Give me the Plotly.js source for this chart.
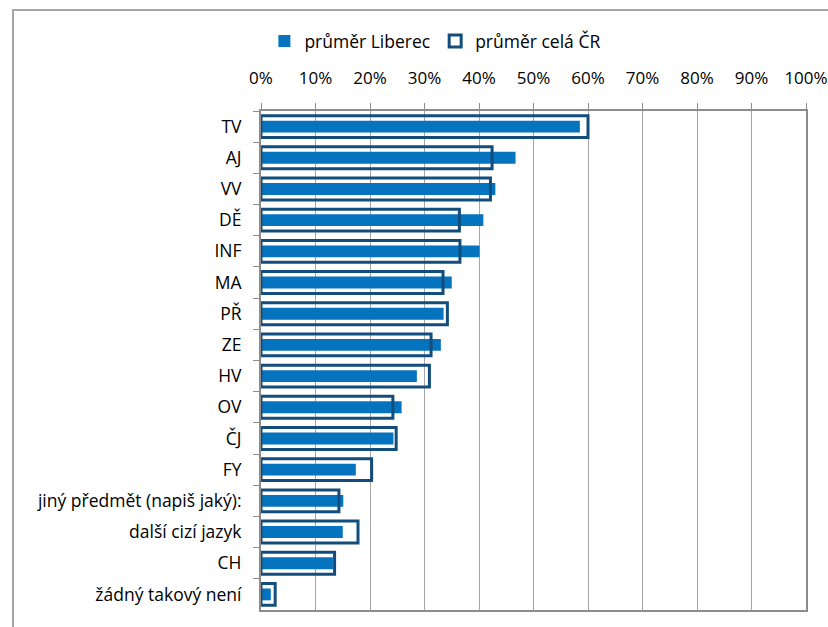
<!DOCTYPE html>
<html>
<head>
<meta charset="utf-8">
<script src="https://cdn.plot.ly/plotly-3.0.1.min.js"></script>
<style>
  html, body { margin: 0; padding: 0; background: #fff; }
  #frame { position: absolute; left: 12px; top: 9px; width: 840px; height: 640px;
           border-left: 2px solid #A6A6A6; border-top: 2px solid #A6A6A6; pointer-events: none; }
  #chart { position: absolute; left: 0; top: 0; width: 828px; height: 627px; }
</style>
</head>
<body>
<div id="chart"></div>
<div id="frame"></div>
<script>
const categories = ["TV", "AJ", "VV", "DĚ", "INF", "MA", "PŘ", "ZE", "HV", "OV", "ČJ", "FY",
  "jiný předmět (napiš jaký):", "další cizí jazyk", "CH", "žádný takový není"];
const liberec = [0.585, 0.467, 0.430, 0.408, 0.401, 0.350, 0.335, 0.330, 0.286, 0.258, 0.243, 0.174,
  0.151, 0.150, 0.132, 0.018];
const celaCR = [0.600, 0.424, 0.421, 0.364, 0.365, 0.334, 0.342, 0.312, 0.309, 0.242, 0.248, 0.203,
  0.143, 0.178, 0.135, 0.026];
const xTickVals = [0, 0.1, 0.2, 0.3, 0.4, 0.5, 0.6, 0.7, 0.8, 0.9, 1.0];
const xTickText = ["0%", "10%", "20%", "30%", "40%", "50%", "60%", "70%", "80%", "90%", "100%"];
const seriesNames = ["průměr Liberec", "průměr celá ČR"];

const traces = [
  {
    type: "bar", orientation: "h", name: seriesNames[0],
    y: categories, x: liberec, width: 0.38,
    marker: { color: "#0573BE", line: { width: 0 } },
    hoverinfo: "skip"
  },
  {
    type: "bar", orientation: "h", name: seriesNames[1],
    y: categories, x: celaCR, width: 0.7,
    marker: { color: "rgba(0,0,0,0)", line: { color: "#124D7B", width: 3 } },
    hoverinfo: "skip"
  }
];

const layout = {
  width: 828, height: 627,
  margin: { l: 261, r: 22, t: 111, b: 17, autoexpand: false },
  paper_bgcolor: "#fff", plot_bgcolor: "#fff",
  barmode: "overlay",
  font: { family: "Open Sans, Noto Sans, sans-serif", size: 17.5, color: "#000" },
  showlegend: true,
  legend: {
    orientation: "h", x: 0.32, xanchor: "center", y: 1.14, yanchor: "middle",
    font: { size: 17.5, color: "#000" }, itemwidth: 30, traceorder: "normal"
  },
  xaxis: {
    side: "top", range: [0, 1], tickvals: xTickVals, ticktext: xTickText,
    tickfont: { size: 17 },
    ticklabeloverflow: "allow",
    showgrid: true, gridcolor: "#A6A6A6", gridwidth: 1,
    showline: true, linecolor: "#8C8C8C", linewidth: 2, mirror: true,
    ticks: "outside", ticklen: 6, tickcolor: "#8C8C8C", tickwidth: 1,
    ticklabelstandoff: 12,
    zeroline: false, fixedrange: true
  },
  yaxis: {
    type: "category", autorange: "reversed",
    showline: true, linecolor: "#8C8C8C", linewidth: 2, mirror: true,
    ticks: "outside", ticklen: 6, tickcolor: "#8C8C8C", tickwidth: 1,
    tickson: "boundaries", showgrid: false,
    ticklabelstandoff: 14,
    fixedrange: true
  }
};

Plotly.newPlot("chart", traces, layout, { displayModeBar: false, staticPlot: true });
</script>
</body>
</html>
